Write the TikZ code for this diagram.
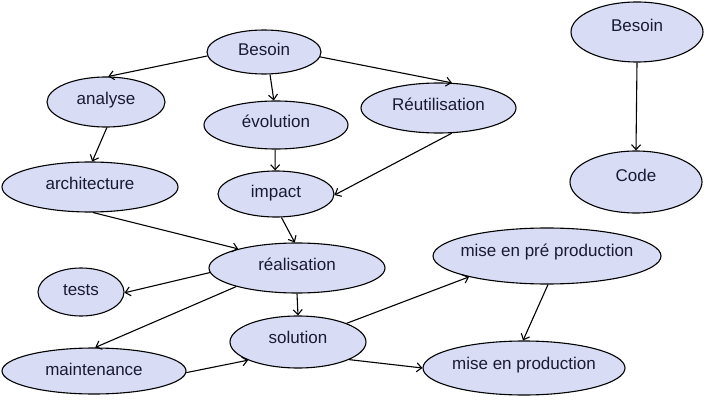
\documentclass[tikz,border=0pt]{standalone}
\usepackage{fontspec}
\setmainfont{Liberation Sans}
\usetikzlibrary{shapes.geometric,arrows.meta}
\definecolor{ellfill}{RGB}{216,220,244}
\definecolor{elltext}{RGB}{26,26,52}
\tikzset{
  ell/.style n args={3}{ellipse, draw=black, line width=1.1pt, fill=ellfill,
    text=elltext, inner sep=0pt, minimum width=#1, minimum height=#2,
    text height=12.8pt, text depth=#3,
    font=\fontsize{17}{20}\selectfont},
  conn/.style={line width=1.1pt, -{Straight Barb[length=5pt,width=9pt]}}
}
\begin{document}
\begin{tikzpicture}[x=1pt,y=-1pt]
\useasboundingbox (0,0) rectangle (715,401);
\node[ell={114pt}{44pt}{6pt}]  (b1)   at (264,52)  {Besoin};
\node[ell={118pt}{50pt}{8pt}]  (an)   at (106,102) {analyse};
\node[ell={144pt}{48pt}{8pt}]  (ev)   at (276,125) {évolution};
\node[ell={155pt}{50pt}{7pt}]  (re)   at (438.5,108) {Réutilisation};
\node[ell={176pt}{50pt}{8pt}]  (ar)   at (90,187)  {architecture};
\node[ell={116pt}{46pt}{6pt}]  (im)   at (276,194) {impact};
\node[ell={176pt}{50pt}{8pt}]  (rl)   at (297,268) {réalisation};
\node[ell={86pt}{48pt}{6pt}]   (te)   at (81,292)  {tests};
\node[ell={136pt}{52pt}{10pt}] (so)   at (298,342) {solution};
\node[ell={184pt}{46pt}{3pt}]  (ma)   at (94,371)  {maintenance};
\node[ell={228pt}{56pt}{12pt}, inner xsep=-20pt] (mpp)  at (547,256) {mise en pré production};
\node[ell={202pt}{54pt}{10pt}, inner xsep=-20pt] (mp)   at (524,368) {mise en production};
\node[ell={132pt}{60pt}{14pt}] (b2)   at (637,32)  {Besoin};
\node[ell={132pt}{62pt}{14pt}] (co)   at (636,182) {Code};

\draw[conn] (b1.184) -- (an.85);
\draw[conn] (b1.-75) -- (ev.95);
\draw[conn] (b1.-5) -- (re.62);
\draw[conn] (an.-88) -- (ar.85);
\draw[conn] (ev.-92) -- (im.92);
\draw[conn] (re.-62) -- (im.-1);
\draw[conn] (ar.-83) -- (rl.162);
\draw[conn] (im.-77) -- (rl.95);
\draw[conn] (rl.183) -- (te.-1);
\draw[conn] (rl.197) -- (ma.87);
\draw[conn] (rl.-90) -- (so.90);
\draw[conn] (ma.-1) -- (so.200);
\draw[conn] (so.21) -- (mpp.195);
\draw[conn] (so.-19) -- (mp.180);
\draw[conn] (mpp.-88) -- (mp.92);
\draw[conn] (b2.-90) -- (co.90);
\end{tikzpicture}
\end{document}
